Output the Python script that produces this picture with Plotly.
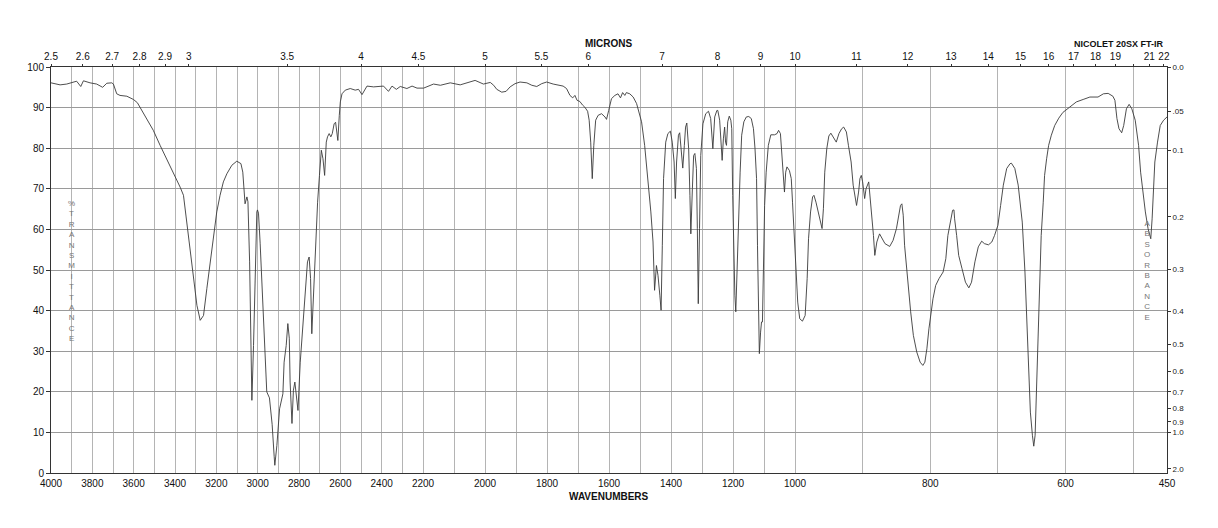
import numpy as np
import plotly.graph_objects as go

# ---------------- data ----------------
wavenumber = [
    4000, 3956, 3924, 3900, 3876, 3856, 3843, 3811, 3779, 3750,
    3730, 3706, 3698, 3682, 3666, 3633, 3601, 3582, 3569, 3537,
    3505, 3472, 3440, 3408, 3375, 3359, 3343, 3327, 3311, 3294,
    3278, 3262, 3246, 3230, 3214, 3198, 3182, 3166, 3149, 3125,
    3101, 3081, 3072, 3065, 3061, 3052, 3047, 3039, 3033, 3028,
    3020, 3012, 3004, 3001, 2996, 2988, 2972, 2956, 2943, 2930,
    2920, 2917, 2907, 2894, 2878, 2872, 2862, 2854, 2847, 2843,
    2834, 2827, 2820, 2810, 2805, 2794, 2778, 2765, 2759, 2751,
    2744, 2738, 2730, 2718, 2710, 2701, 2692, 2684, 2676, 2668,
    2662, 2654, 2646, 2639, 2630, 2623, 2612, 2605, 2600, 2592,
    2576, 2552, 2528, 2512, 2495, 2471, 2439, 2391, 2367, 2350,
    2329, 2310, 2278, 2253, 2229, 2198, 2166, 2144, 2112, 2080,
    2059, 2032, 2005, 1983, 1972, 1962, 1946, 1932, 1919, 1903,
    1887, 1865, 1849, 1833, 1817, 1801, 1780, 1764, 1748, 1737,
    1726, 1717, 1710, 1703, 1694, 1685, 1678, 1669, 1664, 1659,
    1654, 1649, 1643, 1635, 1624, 1613, 1608, 1601, 1592, 1581,
    1571, 1563, 1556, 1549, 1544, 1533, 1522, 1511, 1506, 1495,
    1485, 1474, 1465, 1458, 1453, 1447, 1442, 1436, 1432, 1428,
    1424, 1417, 1410, 1402, 1396, 1390, 1386, 1382, 1376, 1372,
    1368, 1362, 1357, 1353, 1349, 1343, 1339, 1336, 1331, 1327,
    1323, 1318, 1315, 1312, 1308, 1304, 1297, 1288, 1279, 1272,
    1265, 1259, 1252, 1249, 1243, 1239, 1235, 1231, 1227, 1224,
    1221, 1217, 1212, 1207, 1204, 1201, 1197, 1194, 1191, 1186,
    1182, 1177, 1172, 1165, 1157, 1149, 1141, 1134, 1129, 1124,
    1121, 1118, 1115, 1111, 1108, 1105, 1102, 1098, 1093, 1086,
    1078, 1066, 1058, 1053, 1047, 1042, 1037, 1034, 1030, 1026,
    1018, 1012, 1008, 1002, 998, 996, 993, 989, 985, 982,
    980, 977, 974, 972, 969, 965, 962, 960, 958, 956,
    953, 950, 947, 943, 939, 935, 931, 928, 924, 921,
    917, 914, 911, 909, 906, 904, 902, 900, 897, 895,
    891, 889, 886, 884, 882, 879, 875, 871, 867, 860,
    855, 850, 847, 844, 842, 840, 838, 835, 832, 829,
    825, 820, 815, 811, 808, 805, 802, 799, 796, 792,
    787, 781, 777, 774, 770, 767, 765, 764, 761, 758,
    753, 748, 743, 739, 734, 729, 724, 720, 714, 709,
    705, 700, 696, 692, 687, 682, 680, 675, 670, 667,
    664, 660, 657, 654, 652, 649, 647, 645, 643, 641,
    638, 636, 633, 631, 628, 625, 621, 616, 610, 604,
    594, 584, 574, 564, 552, 544, 537, 530, 527, 524,
    521, 517, 514, 510, 506, 502, 497, 492, 489, 485,
    482, 478, 474, 472, 470, 468, 464, 460, 455, 450,
]
transmittance = [
    96.1, 95.6, 95.8, 96.1, 96.5, 95.2, 96.6, 96.1, 95.8, 95.0,
    96.0, 96.1, 95.8, 93.4, 93.0, 92.8, 92.0, 91.2, 90.1, 87.3,
    84.4, 80.7, 77.4, 74.1, 70.4, 68.4, 61.8, 55.3, 47.9, 41.3,
    37.6, 38.8, 45.4, 52.0, 58.5, 64.3, 68.4, 71.7, 73.7, 75.8,
    76.8, 76.2, 74.1, 70.0, 66.3, 68.0, 66.8, 52.0, 31.4, 17.9,
    31.4, 52.0, 64.3, 64.8, 64.0, 56.6, 39.7, 20.0, 18.5, 12.0,
    4.0, 1.9, 6.8, 15.8, 19.5, 27.3, 31.4, 36.8, 33.2, 22.4,
    12.2, 20.4, 22.4, 16.7, 15.4, 27.3, 38.8, 47.9, 52.0, 53.2,
    47.9, 34.3, 43.8, 58.5, 66.7, 73.3, 79.5, 77.4, 73.3, 81.5,
    82.8, 83.6, 82.8, 83.6, 86.0, 86.4, 81.9, 88.1, 91.4, 93.4,
    94.3, 94.7, 94.3, 94.5, 93.2, 95.3, 95.1, 95.3, 94.0, 95.3,
    94.5, 95.2, 94.7, 95.3, 94.8, 94.8, 95.8, 95.5, 96.1, 95.6,
    96.1, 96.7, 95.8, 96.2, 95.5, 94.5, 93.8, 94.0, 95.1, 95.9,
    96.3, 96.1, 95.5, 95.2, 95.9, 96.3, 95.8, 95.5, 95.3, 94.7,
    93.0, 92.4, 93.0, 91.8, 91.5, 90.6, 90.1, 89.1, 86.9, 81.5,
    72.5, 80.7, 86.9, 88.1, 88.5, 87.7, 87.1, 89.3, 92.2, 93.0,
    93.4, 92.4, 93.7, 93.0, 93.7, 93.4, 92.6, 91.0, 89.7, 86.5,
    80.7, 72.5, 64.3, 56.9, 45.0, 51.1, 48.7, 43.8, 40.1, 56.1,
    72.5, 81.5, 83.6, 84.2, 81.5, 76.6, 67.6, 76.6, 83.2, 83.8,
    80.7, 75.1, 80.7, 85.2, 86.2, 79.9, 68.4, 58.9, 70.0, 78.2,
    78.7, 75.0, 60.2, 41.7, 60.2, 78.2, 86.0, 88.5, 89.1, 87.3,
    79.9, 87.7, 89.3, 89.3, 86.9, 81.5, 77.0, 82.3, 85.2, 81.5,
    80.7, 86.5, 87.9, 86.9, 84.8, 68.4, 52.0, 43.8, 39.7, 53.6,
    64.3, 74.1, 83.2, 86.5, 87.7, 87.8, 87.3, 84.8, 79.9, 72.5,
    56.1, 39.7, 29.4, 34.7, 37.2, 37.2, 52.0, 65.9, 74.1, 80.7,
    83.3, 83.3, 83.6, 84.4, 83.6, 77.4, 72.5, 69.2, 74.1, 75.4,
    74.5, 72.5, 66.7, 57.7, 47.9, 42.1, 38.0, 37.4, 38.8, 47.9,
    57.7, 64.3, 68.0, 68.4, 66.7, 63.5, 61.0, 60.2, 65.1, 74.1,
    79.9, 83.0, 83.7, 82.5, 81.5, 83.6, 84.8, 85.2, 84.0, 80.7,
    76.6, 70.9, 67.6, 65.9, 69.2, 72.5, 73.3, 71.7, 67.6, 70.0,
    71.7, 68.4, 63.5, 58.5, 53.6, 56.9, 58.9, 57.7, 56.5, 55.8,
    57.3, 60.2, 63.5, 65.9, 66.3, 63.5, 56.1, 50.3, 45.4, 39.7,
    33.9, 29.8, 27.3, 26.5, 27.3, 30.6, 35.5, 39.5, 42.9, 46.2,
    47.9, 49.5, 52.8, 58.5, 62.6, 64.7, 64.8, 62.6, 58.5, 53.6,
    50.3, 47.0, 45.6, 47.0, 52.0, 55.7, 57.1, 56.5, 56.2, 56.9,
    58.5, 61.0, 65.9, 70.9, 75.0, 76.2, 76.3, 75.0, 70.9, 66.7,
    61.8, 49.5, 35.5, 23.2, 15.0, 9.3, 6.6, 9.3, 19.1, 31.4,
    47.9, 58.5, 66.7, 73.3, 77.4, 80.7, 83.2, 85.6, 87.4, 88.8,
    90.1, 91.4, 92.0, 92.6, 92.6, 93.4, 93.5, 92.8, 91.8, 87.3,
    84.8, 83.8, 85.6, 89.7, 90.8, 89.7, 86.9, 80.7, 74.1, 68.4,
    64.3, 60.2, 57.7, 62.6, 70.0, 76.6, 81.5, 85.6, 86.9, 87.7,
]
assert len(wavenumber) == len(transmittance)

wavenumber_labels = [4000, 3800, 3600, 3400, 3200, 3000, 2800, 2600, 2400, 2200,
                     2000, 1800, 1600, 1400, 1200, 1000, 800, 600, 450]
grid_wavenumbers = (list(range(4000, 2199, -100)) + list(range(2100, 999, -100))
                    + [900, 800, 700, 600, 500, 450])
micron_ticks = [2.5, 2.6, 2.7, 2.8, 2.9, 3, 3.5, 4, 4.5, 5, 5.5, 6, 7, 8, 9, 10,
                11, 12, 13, 14, 15, 16, 17, 18, 19, 20, 21, 22]
micron_labels = ["2.5", "2.6", "2.7", "2.8", "2.9", "3", "3.5", "4", "4.5", "5",
                 "5.5", "6", "7", "8", "9", "10", "11", "12", "13", "14", "15",
                 "16", "17", "18", "19", "", "21", "22"]
absorbance_ticks = [0.0, 0.05, 0.1, 0.2, 0.3, 0.4, 0.5, 0.6, 0.7, 0.8, 0.9, 1.0, 2.0]
absorbance_labels = ["0.0", ".05", "0.1", "0.2", "0.3", "0.4", "0.5", "0.6",
                     "0.7", "0.8", "0.9", "1.0", "2.0"]
transmittance_ticks = list(range(0, 101, 10))


# ------------- piecewise wavenumber scale (three equal panels) -------------
def to_u(wn):
    wn = np.asarray(wn, dtype=float)
    return np.where(wn >= 2200, (4000 - wn) / 1800,
                    np.where(wn >= 1000, 1 + (2200 - wn) / 1200,
                             2 + (1000 - wn) / 550))


FONT = "Liberation Sans, Arial, Helvetica, sans-serif"
W, H = 1218, 528
ML, MR, MT, MB = 51, 51, 67, 55
PW, PH = W - ML - MR, H - MT - MB


def px(xp):
    return (xp - ML) / PW


def py(yp):
    return (H - MB - yp) / PH


fig = go.Figure()
fig.add_trace(go.Scatter(
    x=to_u(wavenumber), y=transmittance, mode="lines",
    line=dict(color="#3a3a3a", width=0.9),
    hoverinfo="skip", showlegend=False))
fig.add_trace(go.Scatter(
    x=[0, 3], y=[0, 100], xaxis="x2", yaxis="y2", mode="markers",
    marker=dict(opacity=0), hoverinfo="skip", showlegend=False))

grid_text = [str(w) if w in wavenumber_labels else "" for w in grid_wavenumbers]

fig.update_layout(
    width=W, height=H, autosize=False,
    margin=dict(l=ML, r=MR, t=MT, b=MB, pad=0),
    paper_bgcolor="white", plot_bgcolor="white",
    font=dict(family=FONT, size=10, color="#111"),
    xaxis=dict(range=[0, 3], tickvals=to_u(grid_wavenumbers), ticktext=grid_text,
               showgrid=True, gridcolor="#b4b4b4", gridwidth=1, zeroline=False,
               showline=True, linecolor="#333", linewidth=1, mirror=True,
               ticks="outside", ticklen=1, tickcolor="rgba(0,0,0,0)",
               tickfont=dict(size=10, family=FONT, color="#111"),
               tickangle=0),
    yaxis=dict(range=[0, 100], tickvals=transmittance_ticks,
               showgrid=True, gridcolor="#9a9a9a", gridwidth=1, zeroline=False,
               showline=True, linecolor="#333", linewidth=1, mirror=True,
               ticks="outside", ticklen=4, tickcolor="#333",
               tickfont=dict(size=10, family=FONT, color="#111")),
    xaxis2=dict(overlaying="x", side="top", range=[0, 3],
                tickvals=to_u([10000 / m for m in micron_ticks]),
                ticktext=micron_labels, showgrid=False, zeroline=False,
                showline=False, ticks="outside", ticklen=2, tickcolor="#333",
                ticklabelstandoff=0,
                tickfont=dict(size=10, family=FONT, color="#111"), tickangle=0),
    yaxis2=dict(overlaying="y", side="right", range=[0, 100],
                tickvals=[100 * 10 ** (-a) for a in absorbance_ticks],
                ticktext=absorbance_labels, showgrid=False, zeroline=False,
                showline=False, ticks="outside", ticklen=3, tickcolor="#333",
                tickfont=dict(size=8, family=FONT, color="#222")),
)

# white strips behind the vertical axis words
fig.add_shape(type="rect", xref="paper", yref="paper", layer="between",
              x0=px(65), x1=px(77), y0=py(346), y1=py(195),
              fillcolor="white", line=dict(width=0))
fig.add_shape(type="rect", xref="paper", yref="paper", layer="between",
              x0=px(1141), x1=px(1153), y0=py(322), y1=py(218),
              fillcolor="white", line=dict(width=0))

fig.add_annotation(text="<br>".join("%TRANSMITTANCE"), xref="paper", yref="paper",
                   x=px(71), y=py(270.5), xanchor="center", yanchor="middle",
                   showarrow=False,
                   font=dict(size=8, family=FONT, color="#777"), align="center")
fig.add_annotation(text="<br>".join("ABSORBANCE"), xref="paper", yref="paper",
                   x=px(1147), y=py(270), xanchor="center", yanchor="middle",
                   showarrow=False,
                   font=dict(size=8, family=FONT, color="#777"), align="center")

fig.add_annotation(text="<b>MICRONS</b>", xref="paper", yref="paper",
                   x=px(609), y=py(44), xanchor="center", yanchor="middle",
                   showarrow=False,
                   font=dict(size=10, family=FONT, color="#111"))
fig.add_annotation(text="<b>WAVENUMBERS</b>", xref="paper", yref="paper",
                   x=px(609), y=py(496), xanchor="center", yanchor="middle",
                   showarrow=False,
                   font=dict(size=10, family=FONT, color="#111"))
fig.add_annotation(text="<b>NICOLET 20SX FT-IR</b>", xref="paper", yref="paper",
                   x=px(1119), y=py(44), xanchor="center", yanchor="middle",
                   showarrow=False,
                   font=dict(size=9, family=FONT, color="#111"))

fig.write_html("out.html")
